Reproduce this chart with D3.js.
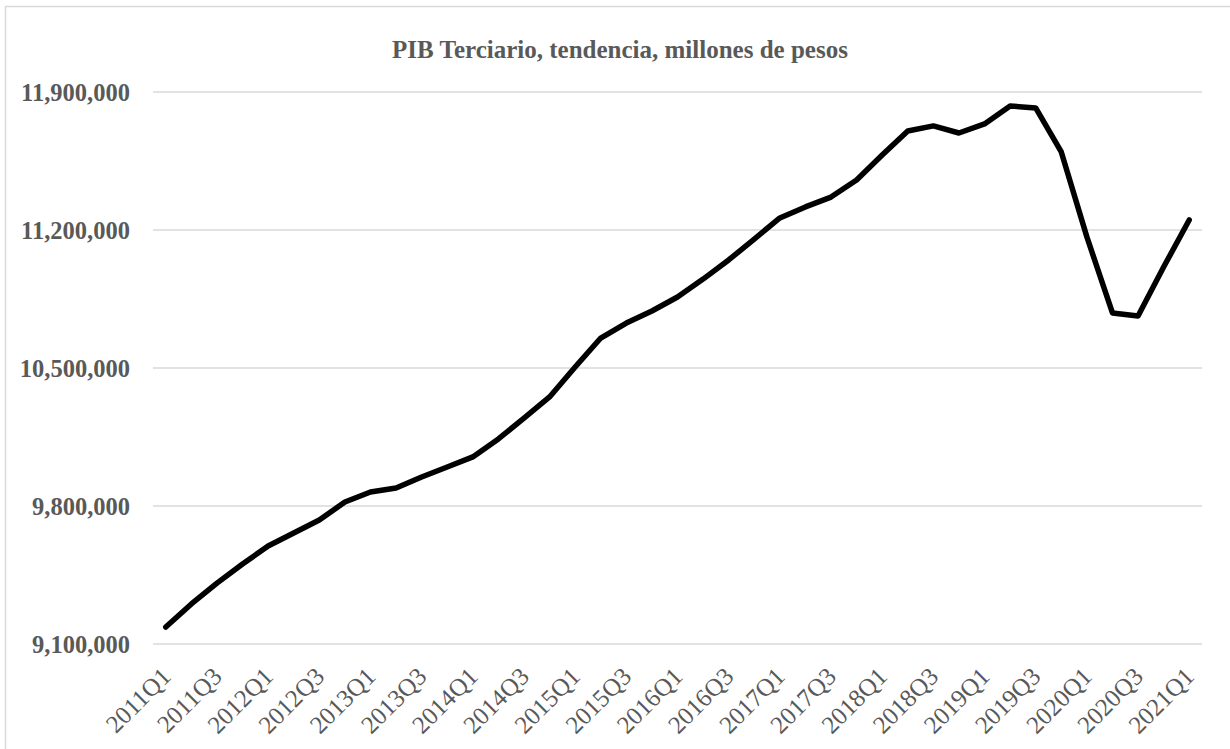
<!DOCTYPE html>
<html>
<head>
<meta charset="utf-8">
<script src="https://cdn.jsdelivr.net/npm/d3@7"></script>
<style>
	body { margin: 0; background: #fff; }
	svg { display: block; }
	.title { font-family: "Liberation Serif", serif; font-weight: bold; font-size: 25px; fill: #595959; }
	.y-axis text { font-family: "Liberation Serif", serif; font-weight: bold; font-size: 24.5px; fill: #595959; }
	.x-axis text { font-family: "Liberation Serif", serif; font-size: 25px; fill: #595959; }
	.grid line { stroke: #d9d9d9; stroke-width: 1.5; }
	.series { fill: none; stroke: #000; stroke-width: 5.5; stroke-linejoin: round; stroke-linecap: round; }
</style>
</head>
<body>
<div id="chart"></div>
<script>
	var quarters = []
	var years = [2011, 2012, 2013, 2014, 2015, 2016, 2017, 2018, 2019, 2020, 2021]
	years.forEach(function (y) {
		["Q1", "Q2", "Q3", "Q4"].forEach(function (q) { quarters.push(y + q) })
	})
	quarters = quarters.slice(0, 41)
	var pib_terciario = [9186000, 9303000, 9409000, 9506000, 9597000, 9663000, 9729000, 9820000,
		9871000, 9891000, 9947000, 9998000, 10049000, 10140000, 10246000, 10353000,
		10505000, 10652000, 10728000, 10789000, 10860000, 10951000, 11048000, 11154000,
		11261000, 11317000, 11367000, 11454000, 11580000, 11702000, 11728000, 11692000,
		11738000, 11829000, 11819000, 11596000, 11165000, 10779000, 10764000, 11012000,
		11251000]
	var y_ticks = [9100000, 9800000, 10500000, 11200000, 11900000]
	var title = "PIB Terciario, tendencia, millones de pesos"

	var width = 1230
	var height = 749
	var plot = {left: 153, right: 1202, top: 92, bottom: 644}

	var svg = d3.select("#chart")
		.append("svg")
			.attr("width", width)
			.attr("height", height)

	// chart area border (runs off the right and bottom edges)
	svg.append("rect")
		.attr("x", 5.5)
		.attr("y", 6.5)
		.attr("width", width + 20)
		.attr("height", height + 20)
		.attr("fill", "none")
		.attr("stroke", "#d9d9d9")
		.attr("stroke-width", 1.5)

	svg.append("text")
		.attr("class", "title")
		.attr("x", 620)
		.attr("y", 58)
		.style("text-anchor", "middle")
		.text(title)

	var x = d3.scalePoint().domain(quarters).range([plot.left, plot.right]).padding(0.5)
	var y = d3.scaleLinear().domain([9100000, 11900000]).range([plot.bottom, plot.top])

	svg.append("g")
		.attr("class", "grid")
		.selectAll("line")
		.data(y_ticks)
		.enter()
		.append("line")
			.attr("x1", plot.left)
			.attr("x2", plot.right)
			.attr("y1", (d) => y(d))
			.attr("y2", (d) => y(d))

	var y_axis = d3.axisLeft(y)
		.tickValues(y_ticks)
		.tickSize(0)
		.tickPadding(23)
		.tickFormat(d3.format(","))
	svg.append("g")
		.attr("class", "y-axis")
		.attr("transform", "translate(" + plot.left + ",0)")
		.call(y_axis)
		.call((g) => g.select(".domain").remove())
	svg.selectAll(".y-axis text").attr("dy", "0.35em")

	var x_axis = d3.axisBottom(x)
		.tickValues(quarters.filter((d, i) => i % 2 == 0))
		.tickSize(0)
		.tickPadding(0)
	svg.append("g")
		.attr("class", "x-axis")
		.attr("transform", "translate(0," + plot.bottom + ")")
		.call(x_axis)
		.call((g) => g.select(".domain").remove())
	svg.selectAll(".x-axis text")
		.attr("y", 0)
		.attr("dy", 0)
		.attr("transform", "translate(6,34) rotate(-45)")
		.style("text-anchor", "end")

	var line = d3.line()
		.x((d, i) => x(quarters[i]))
		.y((d) => y(d))
	svg.append("path")
		.datum(pib_terciario)
		.attr("class", "series")
		.attr("d", line)
</script>
</body>
</html>
